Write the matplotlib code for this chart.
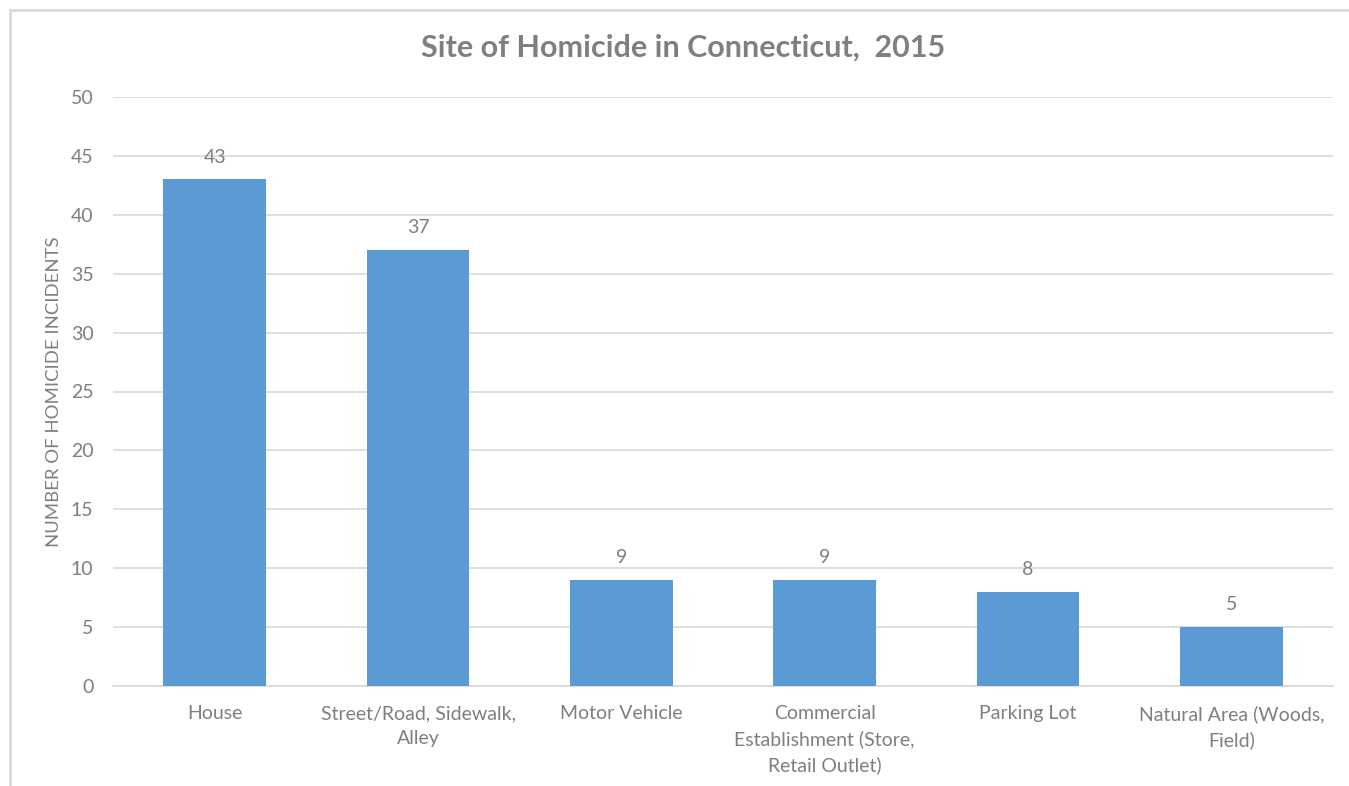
import matplotlib.pyplot as plt
from matplotlib.patches import Rectangle

# data
sites = ['House', 'Street/Road, Sidewalk,\nAlley', 'Motor Vehicle',
         'Commercial\nEstablishment (Store,\nRetail Outlet)', 'Parking Lot',
         'Natural Area (Woods,\nField)']
incidents = [43, 37, 9, 9, 8, 5]
y_ticks = [0, 5, 10, 15, 20, 25, 30, 35, 40, 45, 50]

BAR = '#5B9BD5'
TXT = '#7F7F7F'
GRID = '#D9D9D9'

plt.rcParams['font.family'] = ['Lato', 'DejaVu Sans']

fig = plt.figure(figsize=(13.49, 7.86), dpi=100)
ax = fig.add_axes([113/1349, 1-686/786, 1220/1349, 589/786])

# outer chart frame (light grey, cropped at right/bottom)
fig.patches.append(Rectangle((10/1349, -0.1), 1.2, 1-10/786+0.1,
                             transform=fig.transFigure, fill=False,
                             edgecolor='#D9D9D9', linewidth=2))

x = list(range(len(sites)))
bars = ax.bar(x, incidents, width=0.506, color=BAR, zorder=3)
for xi, v in zip(x, incidents):
    ax.annotate(str(v), (xi, v), xytext=(0, 10), textcoords='offset points',
                ha='center', va='bottom', fontsize=14, color=TXT)

ax.set_xlim(-0.5, len(sites) - 0.5)
ax.set_ylim(0, 50)
ax.set_yticks(y_ticks)
ax.yaxis.grid(True, color=GRID, linewidth=1.2, zorder=0)
ax.set_axisbelow(True)
for s in ['top', 'right', 'left']:
    ax.spines[s].set_visible(False)
ax.spines['bottom'].set_color(GRID)
ax.spines['bottom'].set_linewidth(1.2)
ax.tick_params(axis='both', length=0, labelsize=14, labelcolor=TXT)
ax.tick_params(axis='y', pad=14)
ax.tick_params(axis='x', pad=14)
ax.set_xticks(x)
ax.set_xticklabels(sites, linespacing=1.55)

ax.set_ylabel('NUMBER OF HOMICIDE INCIDENTS', fontsize=13.3, color=TXT, labelpad=6)
fig.text(683/1349, 1-48/786, 'Site of Homicide in Connecticut,  2015',
         ha='center', va='center', fontsize=22, fontweight='bold', color=TXT)

fig.savefig('out.png', dpi=100)
